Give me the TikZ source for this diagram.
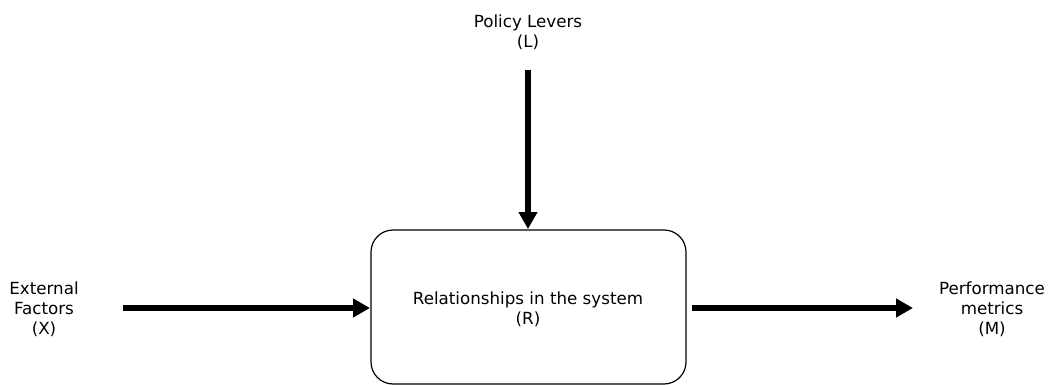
\documentclass[tikz,border=0pt]{standalone}
\usepackage{fontspec}
\setmainfont{DejaVu Sans}
\usetikzlibrary{arrows.meta}
\begin{document}
\begin{tikzpicture}[x=1pt,y=-1pt,
  lbl/.style={align=center,font=\fontsize{16.7}{20}\selectfont,inner sep=0pt},
  flow/.style={line width=6pt,-{Triangle[length=17pt,width=18pt]}},
  sysbox/.style={draw,line width=1.2pt,rounded corners=22pt}]
  \useasboundingbox (0,0) rectangle (1050,385);
  \draw[sysbox] (371,230) rectangle (686,384);
  \node[lbl] (R) at (528,309) {Relationships in the system\\(R)};
  \coordinate (Rtop) at (528,229);
  \coordinate (Rleft) at (370,308);
  \node[lbl] (L) at (528,32) {Policy Levers\\(L)};
  \node[lbl] (X) at (44,309) {External\\Factors\\(X)};
  \node[lbl] (M) at (992,309) {Performance\\metrics\\(M)};
  \coordinate (Lstart) at (528,70);
  \coordinate (Xstart) at (123,308);
  \coordinate (Rright) at (692,308);
  \coordinate (Mend) at (913,308);
  \draw[flow] (Lstart) -- (Rtop);
  \draw[flow] (Xstart) -- (Rleft);
  \draw[flow] (Rright) -- (Mend);
\end{tikzpicture}
\end{document}
